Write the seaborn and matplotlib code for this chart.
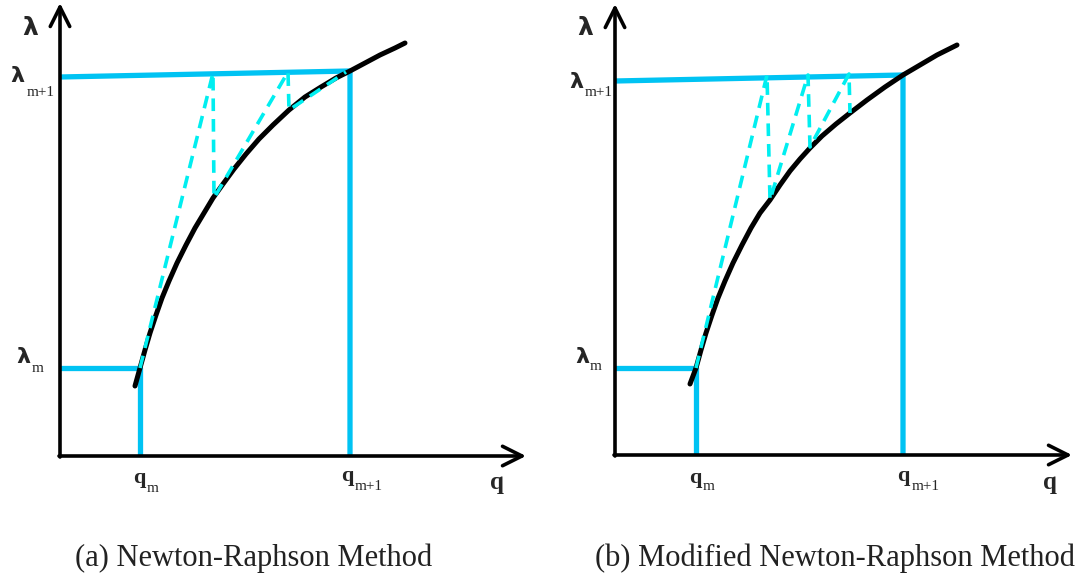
import matplotlib
matplotlib.use("Agg")
import matplotlib.pyplot as plt
import seaborn as sns

# Diagram values (units: q / lambda of each panel)
# (a) Newton-Raphson
curve_a_q = [75, 80, 85, 90, 96, 102, 109, 117, 126, 135, 144, 153, 163, 174, 186,
             199, 213, 229, 245, 261, 276, 290, 305, 320, 335, 345]
curve_a_lam = [70, 88, 106, 123, 141, 158, 175, 193, 211, 228, 243, 258, 272, 287, 302,
               317, 331, 346, 359, 369, 378, 385, 393, 401, 408, 413]
qm_a, qm1_a = 80, 290
lam_m_a = 88
lam_m1_a = [379, 385]  # lambda_{m+1} line is drawn slightly tilted
iter_a_q = [80, 153, 154, 228, 229, 286]
iter_a_lam = [88, 383, 258, 384, 346, 384]

# (b) Modified Newton-Raphson
curve_b_q = [75, 81, 86, 91, 97, 103, 110, 118, 127, 136, 145, 155, 165, 175, 185,
             195, 207, 221, 235, 252, 270, 288, 305, 322, 342]
curve_b_lam = [71, 87, 105, 122, 140, 157, 174, 192, 210, 227, 242, 255, 270, 284, 296,
               307, 319, 331, 342, 355, 368, 380, 390, 400, 410]
qm_b, qm1_b = 81, 288
lam_m_b = 87
lam_m1_b = [374, 380]
iter_b_q = [81, 152, 155, 193, 195, 234, 235]
iter_b_lam = [87, 380, 255, 380, 308, 381, 342]

captions = ["(a) Newton-Raphson Method", "(b) Modified Newton-Raphson Method"]

sns.set_style("white")
plt.rcParams['font.family'] = ['Liberation Serif', 'DejaVu Serif']

SOLID = "#00C3F3"
DASH = "#00EEF0"

fig = plt.figure(figsize=(10.88, 5.8), dpi=100)
ax_a = fig.add_axes([60 / 1088, 124 / 580, 480 / 1088, 456 / 580])
ax_b = fig.add_axes([615 / 1088, 125 / 580, 470 / 1088, 455 / 580])


def draw_panel(ax, cq, cl, qm, qm1, lm, lm1, iq, il, xmax, ymax, arrow_x, arrow_y):
    ax.set_xlim(0, xmax)
    ax.set_ylim(0, ymax)
    ax.axis("off")

    # axes with arrows
    ap = dict(arrowstyle="->,head_length=0.7,head_width=0.35", lw=2.6, color="black",
              shrinkA=0, shrinkB=0, mutation_scale=20)
    ax.annotate("", xy=(arrow_x, 0), xytext=(-1, 0), arrowprops=ap, annotation_clip=False)
    ax.annotate("", xy=(0, arrow_y), xytext=(0, -1), arrowprops=ap, annotation_clip=False)

    # lambda_m and lambda_{m+1} guides
    sns.lineplot(x=[0, qm, qm], y=[lm, lm, 0], sort=False, estimator=None,
                 color=SOLID, lw=3.8, ax=ax)
    sns.lineplot(x=[0, qm1, qm1], y=[lm1[0], lm1[1], 0], sort=False, estimator=None,
                 color=SOLID, lw=3.8, ax=ax)

    # load-displacement curve
    sns.lineplot(x=cq, y=cl, sort=False, estimator=None, color="black", lw=3.6,
                 solid_joinstyle="round", ax=ax)

    # iterations
    sns.lineplot(x=iq, y=il, sort=False, estimator=None, color=DASH, lw=2.6,
                 linestyle=(0, (3.5, 2.2)), ax=ax)


draw_panel(ax_a, curve_a_q, curve_a_lam, qm_a, qm1_a, lam_m_a, lam_m1_a,
           iter_a_q, iter_a_lam, 480, 456, 466, 453)
draw_panel(ax_b, curve_b_q, curve_b_lam, qm_b, qm1_b, lam_m_b, lam_m1_b,
           iter_b_q, iter_b_lam, 470, 455, 457, 451)

big = dict(fontsize=18, fontweight="bold", ha="center", va="center", clip_on=False)
bigl = dict(fontsize=18, fontweight="bold", ha="center", va="center", clip_on=False,
            family="DejaVu Sans")
lam = dict(fontsize=16, fontweight="bold", ha="center", va="center", clip_on=False,
           family="DejaVu Sans")
sub = dict(fontsize=11, ha="left", va="center", clip_on=False)
qb = dict(fontsize=16, fontweight="bold", ha="center", va="center", clip_on=False)

# panel (a) labels
ax_a.text(-30, 428, "λ", **bigl)
ax_a.text(-43, 380, "λ", **lam)
ax_a.text(-33, 364, "m+1", **sub)
ax_a.text(-37, 99, "λ", **lam)
ax_a.text(-28, 88, "m", **sub)
ax_a.text(qm_a - 1, -22, "q", **qb)
ax_a.text(qm_a + 7, -33, "m", **sub)
ax_a.text(qm1_a - 3, -20, "q", **qb)
ax_a.text(qm1_a + 5, -31, "m+1", **sub)
ax_a.text(437, -26, "q", **big)

# panel (b) labels
ax_b.text(-30, 427, "λ", **bigl)
ax_b.text(-39, 373, "λ", **lam)
ax_b.text(-30, 362, "m+1", **sub)
ax_b.text(-33, 98, "λ", **lam)
ax_b.text(-25, 88, "m", **sub)
ax_b.text(qm_b - 1, -23, "q", **qb)
ax_b.text(qm_b + 7, -32, "m", **sub)
ax_b.text(qm1_b, -21, "q", **qb)
ax_b.text(qm1_b + 9, -32, "m+1", **sub)
ax_b.text(435, -27, "q", **big)

fig.text(254 / 1088, 1 - 558 / 580, captions[0], fontsize=22, ha="center", va="center",
         color="#222222")
fig.text(835 / 1088, 1 - 558 / 580, captions[1], fontsize=22, ha="center", va="center",
         color="#222222")

fig.savefig("out.png", dpi=100)
